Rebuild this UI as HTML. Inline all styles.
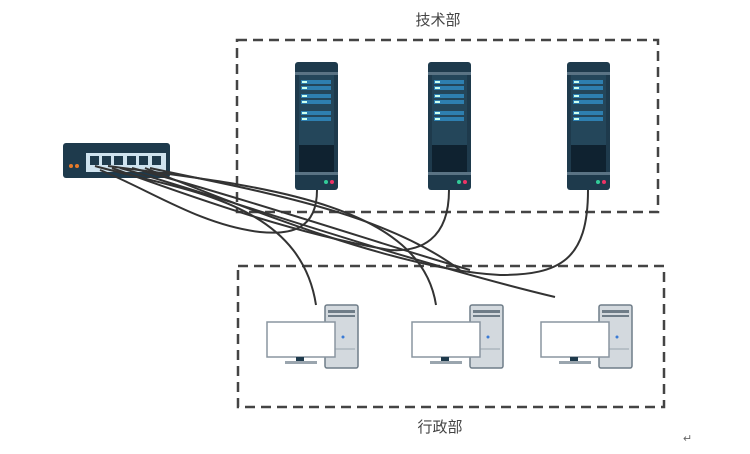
<!DOCTYPE html>
<html><head><meta charset="utf-8"><style>
body{margin:0;background:#fff;}
svg{display:block;}
text{font-family:"Liberation Sans","Noto Sans CJK SC",sans-serif;}
</style></head><body>
<svg width="750" height="454" viewBox="0 0 750 454" xmlns="http://www.w3.org/2000/svg">
<defs>
<g id="srv">
<rect x="0" y="0" width="43" height="128" rx="3" fill="#1e3a4c"/>
<rect x="0" y="10" width="43" height="3" fill="#5a7384"/>
<rect x="4" y="13" width="35" height="70" fill="#24465a"/>
<rect x="6" y="18" width="30" height="4" fill="#2e7fb0"/><rect x="7" y="19" width="5" height="2" fill="#cfe"/>
<rect x="6" y="24" width="30" height="4" fill="#2e7fb0"/><rect x="7" y="25" width="5" height="2" fill="#cfe"/>
<rect x="6" y="32" width="30" height="4" fill="#2e7fb0"/><rect x="7" y="33" width="5" height="2" fill="#cfe"/>
<rect x="6" y="38" width="30" height="4" fill="#2e7fb0"/><rect x="7" y="39" width="5" height="2" fill="#cfe"/>
<rect x="6" y="49" width="30" height="4" fill="#2e7fb0"/><rect x="7" y="50" width="5" height="2" fill="#cfe"/>
<rect x="6" y="55" width="30" height="4" fill="#2e7fb0"/><rect x="7" y="56" width="5" height="2" fill="#cfe"/>
<rect x="4" y="83" width="35" height="27" fill="#0f2230"/>
<rect x="0" y="110" width="43" height="3" fill="#5a7384"/>
<circle cx="31" cy="120" r="2" fill="#3c9"/><circle cx="37" cy="120" r="2" fill="#e36"/>
</g>
<g id="pc">
<rect x="59" y="0" width="33" height="63" rx="2" fill="#d3d9de" stroke="#6f7d88" stroke-width="1.5"/>
<rect x="62" y="5" width="27" height="3" fill="#6f7d88"/>
<rect x="62" y="10" width="27" height="2" fill="#6f7d88"/>
<line x1="62" y1="44" x2="89" y2="44" stroke="#9aa5ae"/>
<circle cx="77" cy="32" r="1.5" fill="#3a7bd5"/>
<rect x="1" y="17" width="68" height="35" fill="#fff" stroke="#8a96a0" stroke-width="1.5"/>
<rect x="30" y="52" width="8" height="5" fill="#1e3a4c"/>
<rect x="19" y="56" width="32" height="3" fill="#9aa5ae"/>
</g>
</defs>
<text x="438" y="25" font-size="15" fill="#444" text-anchor="middle">技术部</text>
<text x="440" y="432" font-size="15" fill="#444" text-anchor="middle">行政部</text>
<text x="683" y="442" font-size="11" fill="#666">↵</text>
<rect x="237" y="40" width="421" height="172" fill="none" stroke="#444" stroke-width="2.5" stroke-dasharray="10,6"/>
<rect x="238" y="266" width="426" height="141" fill="none" stroke="#444" stroke-width="2.5" stroke-dasharray="10,6"/>
<use href="#srv" x="295" y="62"/>
<use href="#srv" x="428" y="62"/>
<use href="#srv" x="567" y="62"/>
<use href="#pc" x="266" y="305"/>
<use href="#pc" x="411" y="305"/>
<use href="#pc" x="540" y="305"/>
<rect x="63" y="143" width="107" height="35" rx="3" fill="#1e3a4c"/>
<rect x="86" y="153" width="80" height="19" fill="#cfe3ef"/>
<g fill="#1e3a4c">
<rect x="90" y="156" width="9" height="9"/><rect x="102" y="156" width="9" height="9"/><rect x="114" y="156" width="9" height="9"/>
<rect x="127" y="156" width="9" height="9"/><rect x="139" y="156" width="9" height="9"/><rect x="152" y="156" width="9" height="9"/>
</g>
<circle cx="71" cy="166" r="2" fill="#e67a2a"/><circle cx="77" cy="166" r="2" fill="#e67a2a"/>
<g fill="none" stroke="#333" stroke-width="2">
<path d="M95 166 C180 190 300 200 316 305"/>
<path d="M108 166 C250 185 420 200 436 305"/>
<path d="M120 168 C200 190 400 260 555 297"/>
<path d="M132 168 C250 200 400 250 470 270"/>
<path d="M317 190 C317 230 290 235 260 232 C200 225 150 190 100 170"/>
<path d="M449 190 C449 240 420 252 390 250 C300 235 200 200 112 168"/>
<path d="M588 190 C588 260 560 275 500 275 C400 270 250 210 145 168"/>
<path d="M150 168 C250 190 380 210 460 270"/>
</g>
</svg>
</body></html>
